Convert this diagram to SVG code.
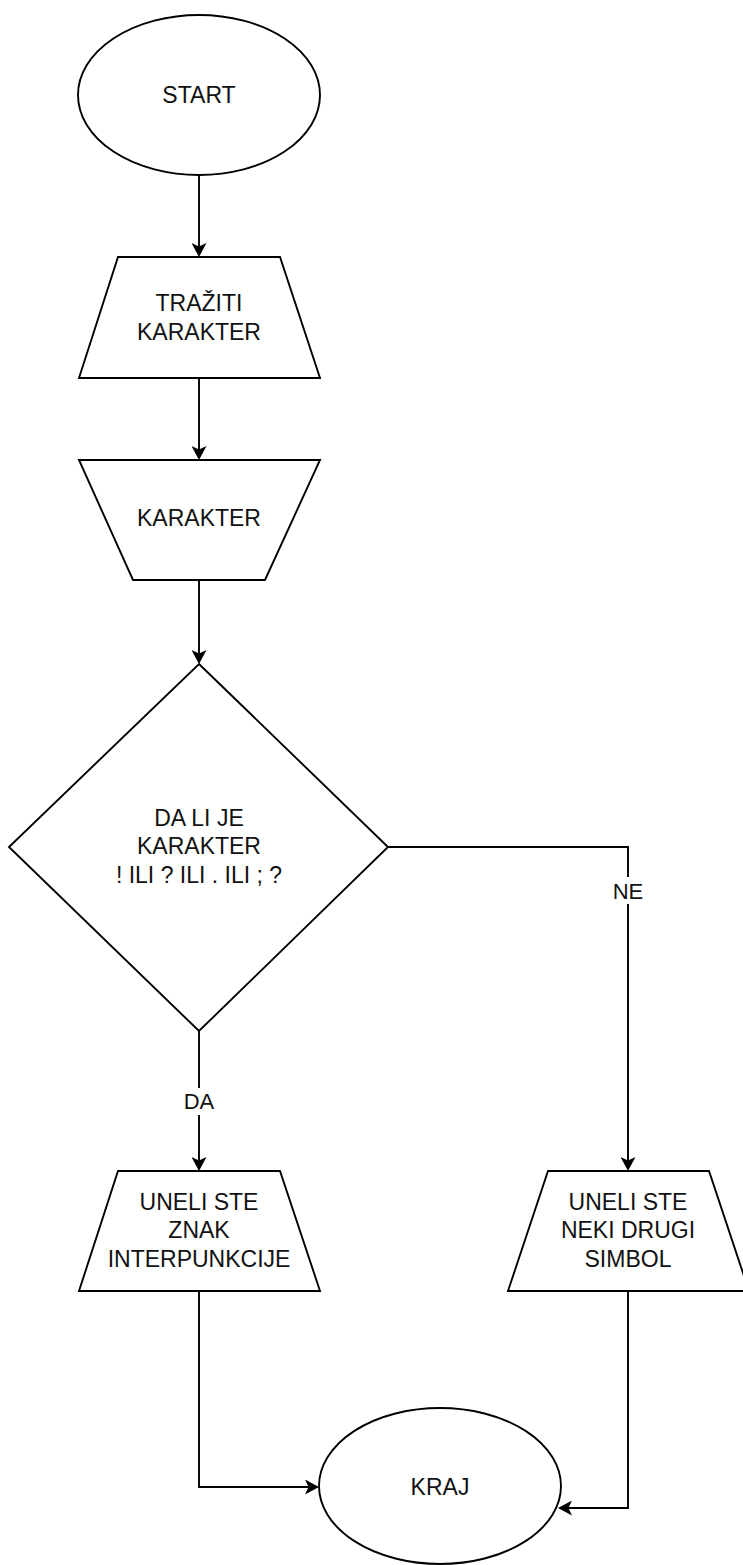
<svg xmlns="http://www.w3.org/2000/svg" width="743" height="1565" viewBox="0 0 743 1565">
<style>
.s{fill:#fff;stroke:#000;stroke-width:1.9}
.t{font-family:"Liberation Sans",Arial,sans-serif;font-size:23px;fill:#111;text-anchor:middle}
.l{font-family:"Liberation Sans",Arial,sans-serif;font-size:22px;fill:#111;text-anchor:middle}
.c{fill:none;stroke:#000;stroke-width:1.9}
</style>
<defs>
<marker id="arr" markerUnits="userSpaceOnUse" viewBox="0 0 14 15" markerWidth="14" markerHeight="15" refX="6" refY="7.5" orient="auto">
<path d="M14,7.5 L0,0 L3.5,7.5 L0,15 Z" fill="#000"/>
</marker>
</defs>
<rect width="743" height="1565" fill="#fff"/>
<g id="connectors">
<path class="c" d="M199,175 L199,249" marker-end="url(#arr)"/>
<path class="c" d="M199,378 L199,452" marker-end="url(#arr)"/>
<path class="c" d="M199,580 L199,656" marker-end="url(#arr)"/>
<path class="c" d="M199,1031 L199,1163" marker-end="url(#arr)"/>
<path class="c" d="M388,847 L628,847 L628,1163" marker-end="url(#arr)"/>
<path class="c" d="M199,1291 L199,1487 L311,1487" marker-end="url(#arr)"/>
<path class="c" d="M628,1291 L628,1508 L566,1508" marker-end="url(#arr)"/>
<g id="label-da">
<rect x="183" y="1088" width="32" height="27" fill="#fff"/>
<text class="l" x="199" y="1109">DA</text>
</g>
<g id="label-ne">
<rect x="611" y="877" width="34" height="27" fill="#fff"/>
<text class="l" x="628" y="899">NE</text>
</g>
</g>
<g id="start">
<ellipse class="s" cx="199" cy="95" rx="121" ry="80"/>
<text class="t" x="199" y="103">START</text>
</g>
<g id="trazi">
<polygon class="s" points="118,257 280,257 320,378 79,378"/>
<text class="t" x="199" y="311">TRAŽITI</text>
<text class="t" x="199" y="340">KARAKTER</text>
</g>
<g id="karakter">
<polygon class="s" points="79,460 320,460 265,580 133,580"/>
<text class="t" x="199" y="526">KARAKTER</text>
</g>
<g id="odluka">
<polygon class="s" points="199,664 388,847 199,1031 9,847"/>
<text class="t" x="199" y="826">DA LI JE</text>
<text class="t" x="199" y="854">KARAKTER</text>
<text class="t" x="199" y="883">! ILI ? ILI . ILI ; ?</text>
</g>
<g id="interpunkcija">
<polygon class="s" points="118,1171 280,1171 320,1291 79,1291"/>
<text class="t" x="199" y="1210">UNELI STE</text>
<text class="t" x="199" y="1238">ZNAK</text>
<text class="t" x="199" y="1267">INTERPUNKCIJE</text>
</g>
<g id="drugi">
<polygon class="s" points="548,1171 709,1171 749,1291 508,1291"/>
<text class="t" x="628" y="1210">UNELI STE</text>
<text class="t" x="628" y="1238">NEKI DRUGI</text>
<text class="t" x="628" y="1267">SIMBOL</text>
</g>
<g id="kraj">
<ellipse class="s" cx="440" cy="1486" rx="121" ry="78"/>
<text class="t" x="440" y="1495">KRAJ</text>
</g>
</svg>
